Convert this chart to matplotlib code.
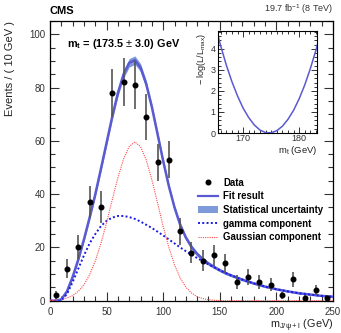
import numpy as np
import matplotlib
matplotlib.use('Agg')
import matplotlib.pyplot as plt
from matplotlib.ticker import MultipleLocator
from matplotlib.patches import Patch
from matplotlib.lines import Line2D

plt.rcParams['font.family'] = ['Liberation Sans', 'DejaVu Sans']
plt.rcParams['mathtext.fontset'] = 'custom'
plt.rcParams['mathtext.rm'] = 'Liberation Sans'
plt.rcParams['mathtext.bf'] = 'Liberation Sans:bold'

# datos (centros de bin, 10 GeV)
x_datos = [5, 15, 25, 35, 45, 55, 65, 75, 85, 95, 105, 115, 125,
           135, 145, 155, 165, 175, 185, 195, 205, 215, 225, 235, 245]
y_datos = [2, 12, 20, 37, 35, 78, 82, 81, 69, 52, 53, 26, 18,
           15, 17, 14, 7, 9, 7, 6, 2, 8, 1, 4, 1]
err_datos = [1.5, 3.5, 4.5, 6, 6, 9, 9, 9, 8.5, 7, 7, 5, 4,
             4, 4, 3.7, 2.6, 3, 2.6, 2.4, 1.4, 2.8, 1.0, 2.0, 1.0]

# curvas leidas cada 5 GeV
x_curva = [0, 5, 10, 15, 20, 25, 30, 35, 40, 45, 50, 55, 60, 65, 70, 75,
           80, 85, 90, 95, 100, 105, 110, 115, 120, 125, 130, 135, 140,
           145, 150, 155, 160, 165, 170, 175, 180, 185, 190, 195, 200,
           205, 210, 215, 220, 225, 230, 235, 240, 245, 250]
y_gamma = [0, 0, 0, 2.5, 7.0, 12.0, 17.0, 21.5, 25.0, 28.0, 30.0, 31.2,
           31.8, 31.8, 31.4, 30.7, 29.7, 28.5, 27.3, 25.9, 24.5, 23.0,
           21.5, 20.0, 18.6, 17.3, 16.0, 14.8, 13.6, 12.5, 11.4, 10.4,
           9.5, 8.7, 7.9, 7.2, 6.5, 5.9, 5.3, 4.8, 4.3, 3.9, 3.5, 3.15,
           2.8, 2.55, 2.3, 2.05, 1.8, 1.65, 1.5]
y_gauss = [0.1, 0.2, 0.5, 1.0, 1.9, 3.5, 6.0, 9.7, 14.9, 21.5, 29.3, 37.9,
           46.2, 53.2, 57.9, 59.6, 57.8, 52.8, 45.4, 36.7, 27.9, 20.0,
           13.5, 8.5, 5.1, 2.9, 1.5, 0.8, 0.35, 0.15, 0.06, 0.02, 0,
           0, 0, 0, 0, 0, 0, 0, 0, 0, 0, 0, 0, 0, 0, 0, 0, 0, 0]
y_ajuste = [0, 0, 0.5, 3.5, 8.9, 15.5, 23.0, 31.2, 39.9, 49.5, 59.3, 69.1,
            78.0, 85.0, 89.3, 90.3, 87.5, 81.3, 72.7, 62.6, 52.4, 43.0,
            35.0, 28.5, 23.7, 20.2, 17.5, 15.6, 13.95, 12.65, 11.46, 10.4,
            9.5, 8.7, 7.9, 7.2, 6.5, 5.9, 5.3, 4.8, 4.3, 3.9, 3.5, 3.15,
            2.8, 2.55, 2.3, 2.05, 1.8, 1.65, 1.5]
err_ajuste = [0, 0, 0.3, 0.5, 0.7, 0.8, 0.9, 1.0, 1.0, 1.1, 1.2, 1.3,
              1.4, 1.5, 1.6, 1.6, 1.5, 1.4, 1.2, 1.1, 1.0, 1.0, 0.9,
              0.9, 0.9, 0.8, 0.8, 0.7, 0.7, 0.6, 0.6, 0.6, 0.5, 0.5,
              0.5, 0.4, 0.4, 0.4, 0.4, 0.3, 0.3, 0.3, 0.3, 0.3, 0.3,
              0.2, 0.2, 0.2, 0.2, 0.2, 0.2]

# perfil de verosimilitud
mt = [165, 166, 167, 168, 169, 170, 171, 172, 173, 174,
      175, 176, 177, 178, 179, 180, 181, 182, 183, 184]
nll = [5.16, 4.14, 3.23, 2.44, 1.76, 1.18, 0.73, 0.38, 0.14, 0.02,
       0.01, 0.11, 0.32, 0.65, 1.08, 1.63, 2.29, 3.07, 3.95, 4.95]

c_ajuste = '#5a5ad2'
c_banda = '#7e9ad8'
c_gamma = '#1a1ae6'
c_gauss = '#ff4a4a'

fig = plt.figure(figsize=(3.41, 3.33), dpi=100)
ax = fig.add_axes([0.1466, 0.097, 0.8299, 0.840])

ax.fill_between(x_curva, np.array(y_ajuste) - np.array(err_ajuste),
                np.array(y_ajuste) + np.array(err_ajuste),
                color=c_banda, lw=0, zorder=2)
ax.plot(x_curva, y_ajuste, color=c_ajuste, lw=1.8, zorder=3)
ax.plot(x_curva, y_gamma, color=c_gamma, lw=1.4, ls=(0, (1, 1.2)), zorder=4)
ax.plot(x_curva, y_gauss, color=c_gauss, lw=0.8, ls=(0, (1, 1)), zorder=4)
ax.errorbar(x_datos, y_datos, yerr=err_datos, fmt='o', color='black',
            ms=3.3, ecolor='#555555', elinewidth=1.2, capsize=0, zorder=5)

ax.set_xlim(0, 250)
ax.set_ylim(0, 105)
ax.xaxis.set_major_locator(MultipleLocator(50))
ax.xaxis.set_minor_locator(MultipleLocator(10))
ax.yaxis.set_major_locator(MultipleLocator(20))
ax.yaxis.set_minor_locator(MultipleLocator(5))
ax.tick_params(which='both', direction='in', top=True, right=True,
               labelsize=7, colors='#333333', width=0.8)
ax.tick_params(which='major', length=6.5)
ax.tick_params(which='minor', length=3.5)
ax.tick_params(axis='x', pad=4.5)
for s in ax.spines.values():
    s.set_linewidth(0.9)

fig.text(0.028, 0.937, 'Events / ( 10 GeV )', rotation=90, ha='center',
         va='top', fontsize=8, color='#222222')
fig.text(0.9765, 0.013, r'm$_{\mathrm{J/\psi+l}}$ (GeV)', ha='right',
         va='baseline', fontsize=7.8, color='#222222')
fig.text(0.1466, 0.952, 'CMS', ha='left', va='bottom', fontsize=8,
         fontweight='bold')
fig.text(0.9765, 0.952, r'19.7 fb$^{-1}$ (8 TeV)', ha='right', va='bottom',
         fontsize=6.5, color='#333333')
ax.text(0.06, 0.918, r'$\mathbf{m_t}$ = (173.5 $\pm$ 3.0) GeV',
        transform=ax.transAxes, fontsize=7.8, fontweight='bold',
        ha='left', va='center')

# leyenda
h_datos = Line2D([0], [0], marker='o', color='black', ms=3.3, ls='none')
h_ajuste = Line2D([0], [0], color=c_ajuste, lw=1.6)
h_banda = Patch(facecolor=c_banda, edgecolor='none')
h_gamma = Line2D([0], [0], color=c_gamma, lw=1.4, ls=(0, (1, 1.2)))
h_gauss = Line2D([0], [0], color=c_gauss, lw=0.8, ls=(0, (1, 1)))
leg = ax.legend([h_datos, h_ajuste, h_banda, h_gamma, h_gauss],
                ['Data', 'Fit result', 'Statistical uncertainty',
                 'gamma component', 'Gaussian component'],
                loc='upper left', bbox_to_anchor=(0.523, 0.44),
                frameon=False, handlelength=2.1,
                handletextpad=0.5, labelspacing=0.38, borderaxespad=0,
                borderpad=0, prop={'weight': 'bold', 'size': 6.9})

# recuadro con el perfil
ins = fig.add_axes([0.639, 0.6006, 0.291, 0.3064])
ins.plot(mt, nll, color=c_ajuste, lw=1.1)
ins.set_xlim(165.5, 183.2)
ins.set_ylim(0, 4.85)
ins.xaxis.set_major_locator(MultipleLocator(10))
ins.xaxis.set_minor_locator(MultipleLocator(1))
ins.yaxis.set_major_locator(MultipleLocator(1))
ins.yaxis.set_minor_locator(MultipleLocator(0.2))
ins.tick_params(which='both', direction='in', top=True, right=True,
                labelsize=6.5, colors='#333333', width=0.7, pad=1.5)
ins.tick_params(axis='x', pad=0.8)
ins.tick_params(which='major', length=4)
ins.tick_params(which='minor', length=2)
fig.text(0.592, 0.90, r'$-$ log(L/L$_{\mathrm{max}}$)', rotation=90,
         ha='center', va='top', fontsize=6.5, color='#222222')
fig.text(0.930, 0.541, r'm$_{\mathrm{t}}$ (GeV)', ha='right',
         va='baseline', fontsize=6.8, color='#222222')

fig.savefig('out.png', dpi=100)
